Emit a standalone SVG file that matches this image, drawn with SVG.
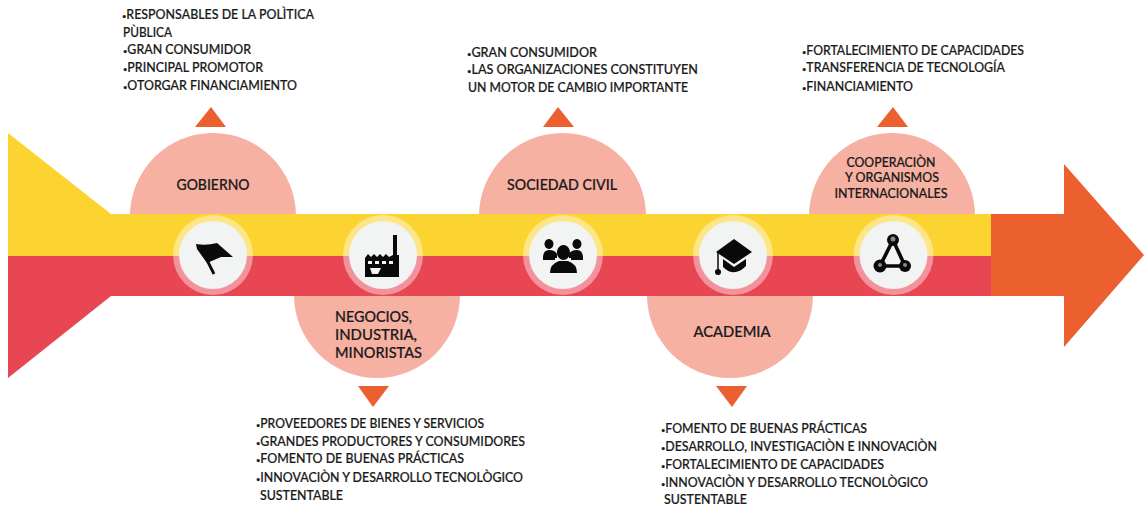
<svg xmlns="http://www.w3.org/2000/svg" width="1144" height="508" viewBox="0 0 1144 508">
<style>
text{font-family:"Lato","Liberation Sans",sans-serif;fill:#1a1a1a;stroke:#1a1a1a;stroke-width:.22;font-size:13.2px;font-weight:500}
.b{font-size:8px}
.t{font-size:14.5px;text-anchor:middle}
.s{font-size:13.5px;text-anchor:middle}
.l{font-size:14.5px}
.lobe{fill:#f6b1a2}
.tri{fill:#ec5f2e}
.halo{fill:#fff;fill-opacity:.42}
.disc{fill:#f2f4f4}
.ic{fill:#0a0a0a}
.il{fill:none;stroke:#0a0a0a;stroke-width:3.6}
.hl{fill:#8a8a8a}
</style>
<rect width="1144" height="508" fill="#fff"/>
<g id="connectors">
<path class="tri" d="M195 127L211 107L226 127Z"/>
<path class="tri" d="M543 127L558 107L574 127Z"/>
<path class="tri" d="M877 127L893 107L908 127Z"/>
<path class="tri" d="M358 386H389L373 407Z"/>
<path class="tri" d="M716 386H747L732 407Z"/>
</g>
<g id="lobes">
<path class="lobe" d="M130 216A83 83 0 0 1 296 216Z"/>
<path class="lobe" d="M479 216A83.500 83 0 0 1 646 216Z"/>
<path class="lobe" d="M809 216A83 83 0 0 1 975 216Z"/>
<path class="lobe" d="M294 295A83 83 0 0 0 460 295Z"/>
<path class="lobe" d="M647 295A83 83 0 0 0 813 295Z"/>
</g>
<g id="backbone">
<path fill="#fcd431" d="M8 133L111 214H991V256H8Z"/>
<path fill="#e94653" d="M8 256H991V296H111L8 378Z"/>
<path fill="#ec5f2e" d="M991 214H1064V164L1144 255L1064 347V296H991Z"/>
</g>
<g id="gobierno">
<circle class="halo" cx="213" cy="255" r="40"/><circle class="disc" cx="213" cy="255" r="34"/>
<path class="ic" d="M196 244Q206 246 217 243L233 257L221 257L207 263L197 249Z"/>
<path class="il" style="stroke-width:2.800" d="M206 258L214 274"/>
<text class="t" x="213" y="189.500" textLength="73" lengthAdjust="spacingAndGlyphs">GOBIERNO</text>
<text x="122" y="18.500" textLength="192" lengthAdjust="spacingAndGlyphs"><tspan class="b">•</tspan>RESPONSABLES DE LA POLÌTICA</text>
<text x="123" y="36.500" textLength="49" lengthAdjust="spacingAndGlyphs">PÙBLICA</text>
<text x="123" y="54" textLength="128" lengthAdjust="spacingAndGlyphs"><tspan class="b">•</tspan>GRAN CONSUMIDOR</text>
<text x="123" y="72" textLength="140" lengthAdjust="spacingAndGlyphs"><tspan class="b">•</tspan>PRINCIPAL PROMOTOR</text>
<text x="123" y="90" textLength="174" lengthAdjust="spacingAndGlyphs"><tspan class="b">•</tspan>OTORGAR FINANCIAMIENTO</text>
</g>
<g id="negocios">
<circle class="halo" cx="383" cy="255" r="40"/><circle class="disc" cx="383" cy="255" r="34"/>
<path class="ic" fill-rule="evenodd" d="M393 235H397V255H399V277H365V258L368 254L371 257L374 254L377 257L380 254L383 257L386 254L389 257L393 255ZM368 261V264H372V261ZM375 261V264H379V261ZM382 261V264H386V261ZM389 261V264H393V261ZM370 268L372 274H378L381 268Z"/>
<text class="l" x="335" y="322" textLength="77" lengthAdjust="spacingAndGlyphs">NEGOCIOS,</text>
<text class="l" x="335" y="340" textLength="82" lengthAdjust="spacingAndGlyphs">INDUSTRIA,</text>
<text class="l" x="335" y="358" textLength="87" lengthAdjust="spacingAndGlyphs">MINORISTAS</text>
<text x="256" y="428" textLength="228" lengthAdjust="spacingAndGlyphs"><tspan class="b">•</tspan>PROVEEDORES DE BIENES Y SERVICIOS</text>
<text x="256" y="446" textLength="269" lengthAdjust="spacingAndGlyphs"><tspan class="b">•</tspan>GRANDES PRODUCTORES Y CONSUMIDORES</text>
<text x="256" y="463" textLength="208" lengthAdjust="spacingAndGlyphs"><tspan class="b">•</tspan>FOMENTO DE BUENAS PRÁCTICAS</text>
<text x="256" y="482" textLength="267" lengthAdjust="spacingAndGlyphs"><tspan class="b">•</tspan>INNOVACIÒN Y DESARROLLO TECNOLÒGICO</text>
<text x="260" y="500" textLength="83" lengthAdjust="spacingAndGlyphs">SUSTENTABLE</text>
</g>
<g id="sociedad">
<circle class="halo" cx="563" cy="255" r="40"/><circle class="disc" cx="563" cy="255" r="34"/>
<path class="ic" d="M549 239a4.500 5 0 1 1-.1 0ZM577 239a4.500 5 0 1 1-.1 0ZM543 258q0-8 6-8t8 4v4h-2v2h-12ZM583 258q0-8-6-8t-8 4v4h2v2h12Z"/>
<path class="ic" d="M563.500 245a6.500 7.500 0 1 1-.1 0ZM550 273q0-9 9-12h9q9 3 9 12Z"/>
<text class="t" x="562" y="189.500" textLength="110" lengthAdjust="spacingAndGlyphs">SOCIEDAD CIVIL</text>
<text x="467" y="57" textLength="130" lengthAdjust="spacingAndGlyphs"><tspan class="b">•</tspan>GRAN CONSUMIDOR</text>
<text x="467" y="74" textLength="231" lengthAdjust="spacingAndGlyphs"><tspan class="b">•</tspan>LAS ORGANIZACIONES CONSTITUYEN</text>
<text x="468" y="92" textLength="220" lengthAdjust="spacingAndGlyphs">UN MOTOR DE CAMBIO IMPORTANTE</text>
</g>
<g id="academia">
<circle class="halo" cx="733" cy="255" r="40"/><circle class="disc" cx="733" cy="255" r="34"/>
<path class="ic" d="M716 252L734 239L752 252L734 264ZM723 259L734 267L746 259V266Q734 278 723 267Z"/>
<path class="il" style="stroke-width:1.500" d="M718 253V270"/>
<circle class="ic" cx="718" cy="272" r="3"/>
<text class="t" x="732" y="337" textLength="77" lengthAdjust="spacingAndGlyphs">ACADEMIA</text>
<text x="661" y="433" textLength="206" lengthAdjust="spacingAndGlyphs"><tspan class="b">•</tspan>FOMENTO DE BUENAS PRÁCTICAS</text>
<text x="661" y="451" textLength="276" lengthAdjust="spacingAndGlyphs"><tspan class="b">•</tspan>DESARROLLO, INVESTIGACIÒN E INNOVACIÒN</text>
<text x="661" y="469" textLength="223" lengthAdjust="spacingAndGlyphs"><tspan class="b">•</tspan>FORTALECIMIENTO DE CAPACIDADES</text>
<text x="661" y="487" textLength="267" lengthAdjust="spacingAndGlyphs"><tspan class="b">•</tspan>INNOVACIÒN Y DESARROLLO TECNOLÒGICO</text>
<text x="664" y="504" textLength="83" lengthAdjust="spacingAndGlyphs">SUSTENTABLE</text>
</g>
<g id="cooperacion">
<circle class="halo" cx="893.500" cy="255" r="40"/><circle class="disc" cx="893.500" cy="255" r="34"/>
<path class="il" d="M893 240L880 266H905Z"/>
<circle class="ic" cx="893" cy="240" r="6"/><circle class="hl" cx="893" cy="239" r="2.500"/>
<circle class="ic" cx="880" cy="266" r="6.500"/><circle class="hl" cx="880" cy="265" r="2"/>
<circle class="ic" cx="905" cy="266" r="6"/><circle class="hl" cx="905" cy="265" r="2"/>
<text class="s" x="891" y="167" textLength="89" lengthAdjust="spacingAndGlyphs">COOPERACIÒN</text>
<text class="s" x="892" y="182" textLength="94" lengthAdjust="spacingAndGlyphs">Y ORGANISMOS</text>
<text class="s" x="891" y="198" textLength="113" lengthAdjust="spacingAndGlyphs">INTERNACIONALES</text>
<text x="802" y="55" textLength="222" lengthAdjust="spacingAndGlyphs"><tspan class="b">•</tspan>FORTALECIMIENTO DE CAPACIDADES</text>
<text x="802" y="72" textLength="203" lengthAdjust="spacingAndGlyphs"><tspan class="b">•</tspan>TRANSFERENCIA DE TECNOLOGÍA</text>
<text x="802" y="91" textLength="111" lengthAdjust="spacingAndGlyphs"><tspan class="b">•</tspan>FINANCIAMIENTO</text>
</g>
</svg>
